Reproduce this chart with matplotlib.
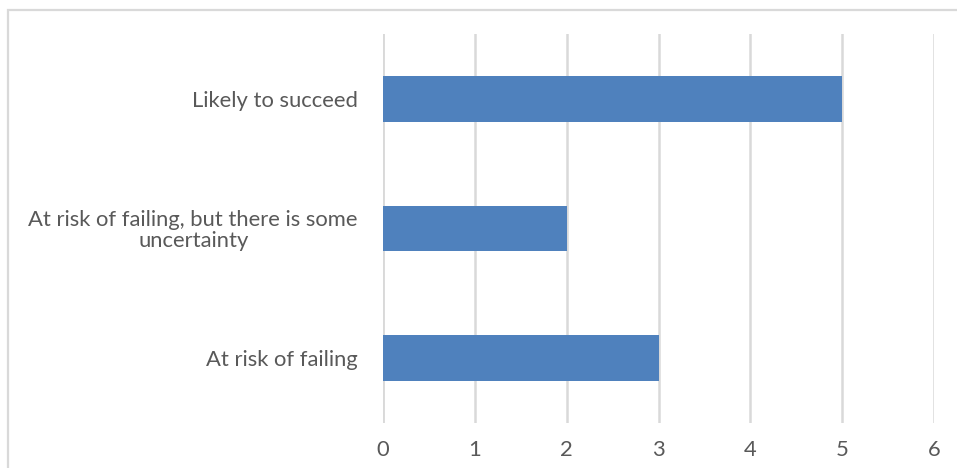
import matplotlib
matplotlib.use("Agg")
import matplotlib.pyplot as plt
from matplotlib.patches import Rectangle

categories = ["At risk of failing",
              "At risk of failing, but there is some\nuncertainty",
              "Likely to succeed"]
counts = [3, 2, 5]
xticks = [0, 1, 2, 3, 4, 5, 6]

bar_color = "#4f81bd"
text_color = "#595959"
grid_color = "#d9d9d9"

plt.rcParams["font.family"] = ["Lato", "DejaVu Sans"]

fig = plt.figure(figsize=(9.57, 4.68), dpi=100)
ax = fig.add_axes([0.4002, 0.0962, 0.976 - 0.4002, 0.9274 - 0.0962])

# outer chart frame (runs off the right and bottom edges)
fig.patches.append(Rectangle((8 / 957, -0.05), 1.2, 1 - 10 / 468 + 0.05,
                             transform=fig.transFigure, fill=False,
                             edgecolor=grid_color, linewidth=1.6))

ypos = range(len(categories))
ax.barh(ypos, counts, height=0.354, color=bar_color, zorder=3)

ax.set_xlim(0, 6)
ax.set_ylim(-0.5, 2.5)
ax.set_xticks(xticks)
ax.set_xticklabels([str(t) for t in xticks])
ax.set_yticks(list(ypos))
ax.set_yticklabels(categories, multialignment="center", linespacing=1.05)

ax.grid(axis="x", color=grid_color, linewidth=1.8, zorder=0)
ax.axvline(0, color=grid_color, linewidth=1.8, zorder=1)
for s in ax.spines.values():
    s.set_visible(False)

ax.tick_params(axis="both", length=0, labelsize=15.8, labelcolor=text_color)
ax.tick_params(axis="y", pad=18)
ax.tick_params(axis="x", pad=12)

fig.savefig("out.png", dpi=100)
